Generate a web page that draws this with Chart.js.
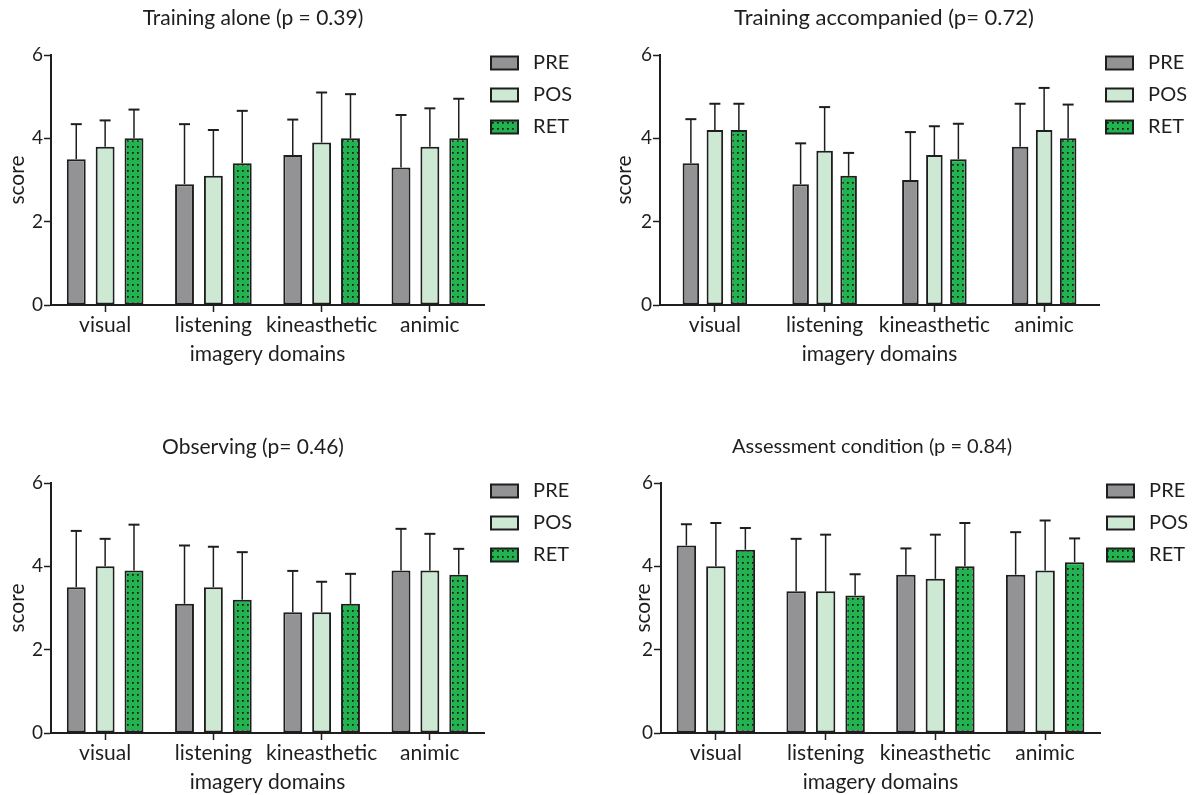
<!DOCTYPE html>
<html>
<head>
<meta charset="utf-8">
<script src="https://cdn.jsdelivr.net/npm/chart.js@4.4.1/dist/chart.umd.min.js"></script>
<style>
  html, body { margin: 0; background: #fff; overflow: hidden; }
  canvas { position: absolute; }
</style>
</head>
<body>
<canvas id="alone" width="596" height="367" style="left:0;top:0"></canvas>
<canvas id="accompanied" width="600" height="367" style="left:600px;top:0"></canvas>
<canvas id="observing" width="596" height="367" style="left:0;top:428px"></canvas>
<canvas id="assessment" width="600" height="367" style="left:600px;top:428px"></canvas>
<script>
// categories and series
const domains = ["visual", "listening", "kineasthetic", "animic"];
const phases = ["PRE", "POS", "RET"];
const yTicks = [0, 2, 4, 6];

// Training alone (p = 0.39): means and SD
const alonePre = [3.5, 2.9, 3.6, 3.3];
const alonePos = [3.8, 3.1, 3.9, 3.8];
const aloneRet = [4.0, 3.4, 4.0, 4.0];
const alonePreSd = [0.84, 1.44, 0.85, 1.26];
const alonePosSd = [0.63, 1.10, 1.20, 0.92];
const aloneRetSd = [0.69, 1.26, 1.06, 0.95];

// Training accompanied (p= 0.72)
const accPre = [3.4, 2.9, 3.0, 3.8];
const accPos = [4.2, 3.7, 3.6, 4.2];
const accRet = [4.2, 3.1, 3.5, 4.0];
const accPreSd = [1.06, 0.98, 1.15, 1.03];
const accPosSd = [0.63, 1.05, 0.69, 1.01];
const accRetSd = [0.63, 0.55, 0.85, 0.81];

// Observing (p= 0.46)
const obsPre = [3.5, 3.1, 2.9, 3.9];
const obsPos = [4.0, 3.5, 2.9, 3.9];
const obsRet = [3.9, 3.2, 3.1, 3.8];
const obsPreSd = [1.35, 1.40, 0.99, 1.00];
const obsPosSd = [0.66, 0.97, 0.73, 0.88];
const obsRetSd = [1.10, 1.14, 0.72, 0.62];

// Assessment condition (p = 0.84)
const assPre = [4.5, 3.4, 3.8, 3.8];
const assPos = [4.0, 3.4, 3.7, 3.9];
const assRet = [4.4, 3.3, 4.0, 4.1];
const assPreSd = [0.51, 1.26, 0.63, 1.02];
const assPosSd = [1.04, 1.36, 1.06, 1.20];
const assRetSd = [0.52, 0.51, 1.04, 0.57];

const FONT = "Lato";
const INK = "#1e1e1e";

// dotted green fill for RET
const dots = (() => {
  const c = document.createElement("canvas");
  c.width = 5; c.height = 6;
  const g = c.getContext("2d");
  g.fillStyle = "#22b24f";
  g.fillRect(0, 0, 5, 6);
  g.fillStyle = "#111";
  g.fillRect(2, 2, 1.7, 1.7);
  return g.createPattern(c, "repeat");
})();

const fills = ["#939396", "#cde8d3", dots];

// upper-only error bars with a cap
const errorBars = {
  id: "errorBars",
  afterDatasetsDraw(chart) {
    const ctx = chart.ctx;
    const y = chart.scales.y;
    chart.data.datasets.forEach((ds, i) => {
      chart.getDatasetMeta(i).data.forEach((bar, j) => {
        const top = y.getPixelForValue(ds.data[j] + ds.sd[j]);
        ctx.save();
        ctx.strokeStyle = INK;
        ctx.lineWidth = 1.5;
        ctx.beginPath();
        ctx.moveTo(bar.x, bar.y);
        ctx.lineTo(bar.x, top);
        ctx.stroke();
        ctx.lineWidth = 2;
        ctx.beginPath();
        ctx.moveTo(bar.x - 5.5, top);
        ctx.lineTo(bar.x + 5.5, top);
        ctx.stroke();
        ctx.restore();
      });
    });
  }
};

function makeChart(id, title, series, sds, g) {
  const ctx = document.getElementById(id).getContext("2d");
  return new Chart(ctx, {
    type: "bar",
    data: {
      labels: domains,
      datasets: phases.map((p, k) => ({
        label: p,
        data: series[k],
        sd: sds[k],
        backgroundColor: fills[k],
        borderColor: INK,
        borderWidth: 2,
        borderSkipped: false,
        categoryPercentage: g.cat,
        barPercentage: g.bar
      }))
    },
    options: {
      responsive: false,
      animation: false,
      devicePixelRatio: 1,
      layout: { padding: { left: g.left, right: g.right, top: 0, bottom: 0 } },
      plugins: {
        tooltip: { enabled: false },
        title: {
          display: true,
          text: title,
          color: INK,
          font: { family: FONT, size: g.titleSize, weight: "normal", lineHeight: 1.2 },
          padding: { top: g.titleTop, bottom: 55 - g.titleTop - g.titleSize * 1.2 }
        },
        legend: {
          position: "right",
          align: "start",
          maxWidth: 96,
          title: { display: true, text: " ", font: { size: 10, lineHeight: 1 }, padding: { top: 36, bottom: 0 } },
          labels: {
            color: INK,
            font: { family: FONT, size: 20, lineHeight: 1.25 },
            boxWidth: 27,
            boxHeight: 13,
            padding: 7,
            generateLabels: (chart) =>
              Chart.defaults.plugins.legend.labels.generateLabels(chart)
                .map(l => Object.assign(l, { text: [" " + l.text] }))
          }
        }
      },
      scales: {
        x: {
          afterFit: (s) => { s.height = 62; },
          grid: { offset: false, drawOnChartArea: false, drawTicks: true, tickLength: 7, tickColor: INK, tickWidth: 1.5 },
          border: { display: true, color: INK, width: 2 },
          ticks: { color: INK, padding: 1, autoSkip: false, maxRotation: 0, font: { family: FONT, size: 21 } },
          title: { display: true, text: "imagery domains", color: INK, padding: { top: 0, bottom: 0 }, font: { family: FONT, size: 21, lineHeight: 1.2 } }
        },
        y: {
          min: 0,
          max: 6,
          afterFit: (s) => { s.width = g.yW; },
          afterBuildTicks: (s) => { s.ticks = yTicks.map(v => ({ value: v })); },
          grid: { drawOnChartArea: false, drawTicks: true, tickLength: 7, tickColor: INK, tickWidth: 1.5 },
          border: { display: true, color: INK, width: 2 },
          ticks: { color: INK, padding: 1, font: { family: FONT, size: 19 } },
          title: { display: true, text: "score", color: INK, padding: { top: g.scorePad, bottom: 0 }, font: { family: FONT, size: 21, lineHeight: 1.2 } }
        }
      }
    },
    plugins: [errorBars]
  });
}

makeChart("alone", "Training alone (p = 0.39)",
  [alonePre, alonePos, aloneRet], [alonePreSd, alonePosSd, aloneRetSd],
  { left: -74, yW: 125, right: 16, scorePad: 78.9, cat: 0.80, bar: 0.655, titleTop: 5.4, titleSize: 21 });

makeChart("accompanied", "Training accompanied (p= 0.72)",
  [accPre, accPos, accRet], [accPreSd, accPosSd, accRetSd],
  { left: -27, yW: 87, right: 5, scorePad: 38.4, cat: 0.656, bar: 0.69, titleTop: 5, titleSize: 22 });

makeChart("observing", "Observing (p= 0.46)",
  [obsPre, obsPos, obsRet], [obsPreSd, obsPosSd, obsRetSd],
  { left: -74, yW: 125, right: 16, scorePad: 78.9, cat: 0.80, bar: 0.655, titleTop: 6.4, titleSize: 21 });

makeChart("assessment", "Assessment condition (p = 0.84)",
  [assPre, assPos, assRet], [assPreSd, assPosSd, assRetSd],
  { left: -52, yW: 113, right: 4, scorePad: 82.4, cat: 0.806, bar: 0.66, titleTop: 7, titleSize: 20 });
</script>
</body>
</html>
